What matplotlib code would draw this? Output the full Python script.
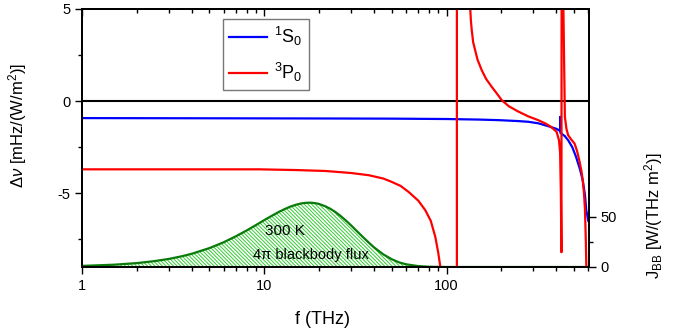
import numpy as np
import matplotlib.pyplot as plt
from matplotlib.ticker import LogLocator, NullFormatter, FixedLocator

plt.rcParams['font.family'] = ['Liberation Sans', 'DejaVu Sans']
plt.rcParams['hatch.linewidth'] = 0.7
plt.rcParams['axes.unicode_minus'] = False
plt.rcParams['mathtext.fontset'] = 'custom'
plt.rcParams['mathtext.rm'] = 'Liberation Sans'
plt.rcParams['mathtext.it'] = 'Liberation Sans:italic'

# 1S0 shift (mHz per W/m^2)
f_s = [1, 5, 20, 50, 100, 150, 192, 246, 281, 318, 362, 400, 418, 420, 420.5, 421.5,
       446, 465, 490, 514, 540, 559, 575, 584, 600]
s0 = [-0.92, -0.93, -0.94, -0.95, -0.97, -1.0, -1.03, -1.08, -1.12, -1.2, -1.36, -1.5, -1.6,
      -1.62, -0.85, -1.72, -1.9, -2.12, -2.5, -3.03, -3.7, -4.3, -5.1, -5.9, -6.5]

# 3P0 shift, NaN separates branches
f_p = [1, 5, 9.4, 15, 21.7, 30, 37.5, 45, 50, 56, 62, 70, 76.5, 82, 86.8, 90, 92.5, 94,
       np.nan, 114, 114.01, np.nan,
       134, 135, 136, 137.5, 140, 143.5, 148, 156, 165, 177, 190, 201, 220, 246, 280, 318,
       350, 375, 402, 414, 420, 424, 427,
       428, 437, 446, 455, 465, 485, 504, 520, 535, 550, 559, 568, 575, 581, 585, 587]
p0 = [-3.70, -3.70, -3.70, -3.74, -3.79, -3.9, -4.02, -4.2, -4.38, -4.6, -4.93, -5.4, -5.92,
      -6.5, -7.37, -8.2, -9.0, -9.6,
      np.nan, -9.6, 5.6, np.nan,
      5.6, 5.0, 4.4, 3.86, 3.2, 2.77, 2.25, 1.68, 1.2, 0.78, 0.38, 0.05, -0.28, -0.55, -0.82,
      -1.03, -1.22, -1.40, -1.67, -2.12, -2.8, -5.0, -8.2,
      5.6, 5.6, -0.85, -1.5, -1.85, -2.1, -2.3, -2.7, -3.2, -3.8, -4.3, -5.0, -5.9, -7.5, -9.0, -9.6]

# 300 K blackbody flux, W/(THz m^2)
f_bb = [1, 1.5, 2, 2.5, 3, 3.5, 4, 5, 6, 7, 8, 9, 10, 11, 12, 13, 14, 15, 16, 17, 18, 19, 20,
        21.5, 23, 24.5, 26, 28, 30, 32.5, 35, 37.5, 40, 45, 50, 55, 60, 70, 80, 100, 150, 600]
j_bb = [1.1, 2.3, 3.9, 5.9, 8.1, 10.6, 13.2, 18.9, 24.8, 30.8, 36.5, 41.9, 46.9, 51.2, 55.0,
        58.1, 60.6, 62.4, 63.6, 64.2, 64.3, 63.9, 63.0, 60.9, 58.3, 55.1, 51.6, 46.6, 41.5,
        35.2, 29.5, 24.3, 19.7, 12.6, 7.8, 4.6, 2.7, 0.9, 0.25, 0.02, 0, 0]

fig = plt.figure(figsize=(6.78, 3.35), dpi=100)
ax = fig.add_axes([82/678, 68/335, 507/678, 258/335])
ax2 = ax.twinx()
ax.set_zorder(ax2.get_zorder() + 1)
ax.patch.set_visible(False)

# blackbody on the right axis
ax2.fill_between(f_bb, 0, j_bb, facecolor='white', edgecolor='#33cc33',
                 hatch='\\' * 9, linewidth=0)
ax2.plot(f_bb, j_bb, color='#0a7a0a', lw=1.6)
ax2.set_ylim(0, 258)
ax2.set_yticks([0, 50])
ax2.yaxis.set_minor_locator(FixedLocator([25]))
ax2.tick_params(axis='y', which='major', length=5, width=1, labelsize=10.5, direction='out')
ax2.tick_params(axis='y', which='minor', length=3, width=1, direction='out')

fig.text(285/678, 1 - 231/335, '300 K', fontsize=11, ha='center', va='center')
fig.text(311/678, 1 - 255/335, '4π blackbody flux', fontsize=10.5,
         ha='center', va='center')

ax.axhline(0, color='black', lw=1.5)
ax.plot(f_s, s0, color='#0000ff', lw=1.6, label='$^1$S$_0$')
ax.plot(f_p, p0, color='#ff0000', lw=1.6, label='$^3$P$_0$')

ax.set_xscale('log')
ax.set_xlim(1, 605)
ax.set_ylim(-9, 5)
ax.set_yticks([-5, 0, 5])
ax.set_yticks([-7.5, -2.5, 2.5], minor=True)
ax.xaxis.set_minor_locator(LogLocator(base=10, subs=np.arange(2, 10), numticks=10))
ax.xaxis.set_minor_formatter(NullFormatter())
ax.set_xticks([1, 10, 100])
ax.set_xticklabels(['1', '10', '100'])
ax.tick_params(axis='both', which='major', length=5, width=1, labelsize=10.5)
ax.tick_params(axis='both', which='minor', length=3, width=1)

top = ax.secondary_xaxis('top')
top.set_xticks([1, 10, 100])
top.xaxis.set_minor_locator(LogLocator(base=10, subs=np.arange(2, 10), numticks=10))
top.tick_params(axis='x', which='major', direction='in', length=5, width=1, labeltop=False)
top.tick_params(axis='x', which='minor', direction='in', length=3, width=1, labeltop=False)
top.xaxis.set_minor_formatter(NullFormatter())

for a in (ax, ax2):
    for sp in a.spines.values():
        sp.set_linewidth(1.3)
top.spines['top'].set_linewidth(1.3)

ax.set_xlabel('f (THz)', fontsize=13)
ax.xaxis.set_label_coords(0.475, -0.17)
ax.set_ylabel('$\\Delta\\nu$ [mHz/(W/m$^2$)]', fontsize=12)
ax.yaxis.set_label_coords(-0.105, 0.55)
ax2.set_ylabel('J$_{\\rm BB}$ [W/(THz m$^2$)]', fontsize=12)
ax2.yaxis.set_label_coords(1.105, 0.2)

leg = ax.legend(loc='upper left', bbox_to_anchor=(141/507, 1 - 10/258), borderaxespad=0,
                fontsize=13, frameon=True, fancybox=False, edgecolor='#555555',
                handlelength=2.1, handletextpad=0.4, borderpad=0.35, labelspacing=0.7)
leg.get_frame().set_linewidth(1.0)

fig.savefig('out.png', dpi=100)
